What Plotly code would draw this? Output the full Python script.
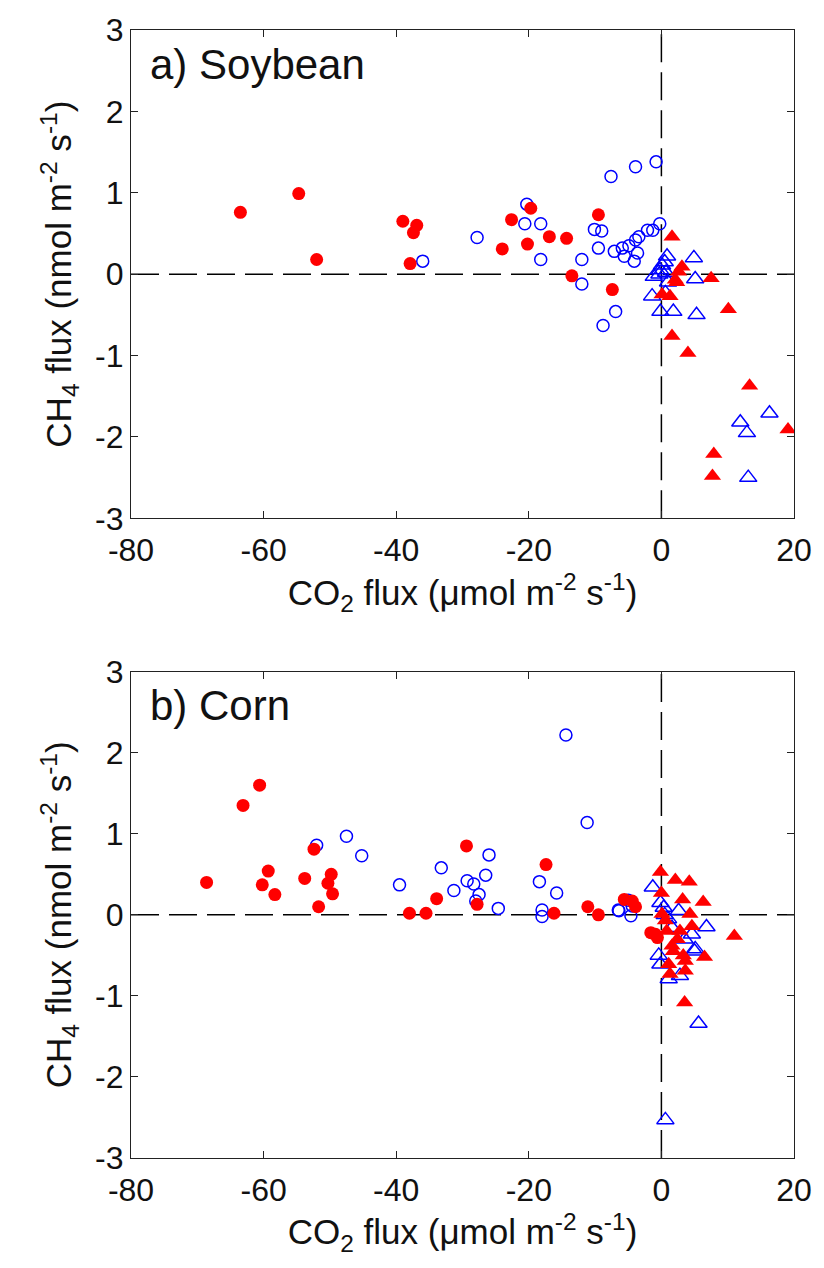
import plotly.graph_objects as go

# ---------------- Data ----------------
# Panel a) Soybean
soy_red_circ_x = [-63.5, -54.7, -52.0, -39.0, -36.9, -37.4, -37.9, -22.6, -19.7, -24.0, -20.2, -16.9, -14.3, -9.5, -13.5, -7.4]
soy_red_circ_y = [0.76, 0.99, 0.18, 0.65, 0.60, 0.51, 0.13, 0.67, 0.81, 0.31, 0.37, 0.46, 0.44, 0.73, -0.02, -0.19]

soy_blue_circ_x = [-20.3, -20.6, -18.2, -27.8, -36.0, -18.2, -12.0, -12.0, -9.5, -10.1, -9.0, -7.6, -3.9, -0.8, -6.9, -8.8,
                   -7.1, -5.9, -5.6, -4.9, -4.1, -3.6, -3.9, -3.4, -2.1, -1.3, -0.25]
soy_blue_circ_y = [0.86, 0.62, 0.62, 0.45, 0.16, 0.18, 0.18, -0.12, 0.32, 0.55, 0.53, 1.20, 1.32, 1.38, -0.46, -0.63,
                   0.28, 0.32, 0.22, 0.35, 0.16, 0.26, 0.42, 0.46, 0.54, 0.54, 0.62]

soy_blue_tri_x = [0.85, 4.9, 5.1, -1.15, 0.1, 0.5, -0.2, 0.7, -1.4, -0.15, 1.8, 5.3, 0.6, 11.9, 16.3, 12.9, 13.1, -0.3, 1.0]
soy_blue_tri_y = [0.22, 0.20, -0.06, -0.03, 0.11, 0.15, 0.05, 0.02, -0.27, -0.46, -0.46, -0.50, -0.23, -1.82, -1.71, -1.95, -2.50, 0.00, -0.10]

soy_red_tri_x = [1.6, 3.1, 2.1, 7.5, 10.1, 1.6, 4.0, 0.1, 1.3, 2.3, 2.6, 13.3, 19.1, 7.9, 7.7]
soy_red_tri_y = [0.46, 0.09, -0.07, -0.05, -0.43, -0.76, -0.97, -0.25, -0.27, -0.10, 0.03, -1.37, -1.91, -2.21, -2.48]

# Panel b) Corn
corn_red_circ_x = [-60.6, -63.1, -68.6, -59.3, -60.2, -58.3, -53.8, -52.4, -51.7, -49.8, -50.3, -49.6, -38.0, -35.5,
                   -33.9, -29.4, -27.8, -17.4, -16.2, -11.1, -9.5, -5.6, -4.4, -3.9, -1.6, -0.9, -0.6]
corn_red_circ_y = [1.60, 1.35, 0.40, 0.54, 0.37, 0.25, 0.45, 0.81, 0.10, 0.50, 0.39, 0.26, 0.02, 0.02,
                   0.20, 0.85, 0.13, 0.62, 0.02, 0.10, 0.00, 0.19, 0.17, 0.10, -0.22, -0.24, -0.28]

corn_blue_circ_x = [-52.0, -47.5, -45.2, -39.5, -14.4, -11.2, -33.2, -31.3, -29.3, -28.3, -27.5, -28.0, -26.0, -26.5,
                    -24.6, -18.4, -15.8, -18.0, -18.0, -6.5, -6.4, -4.6, -4.4, -5.0]
corn_blue_circ_y = [0.86, 0.97, 0.73, 0.37, 2.22, 1.14, 0.58, 0.30, 0.42, 0.38, 0.25, 0.17, 0.74, 0.49,
                    0.08, 0.41, 0.27, 0.06, -0.02, 0.06, 0.05, -0.01, 0.11, 0.18]

corn_blue_tri_x = [-1.3, -0.15, 0.35, 2.6, 6.8, 5.1, -0.4, 1.1, 2.8, 4.6, 1.6, -0.15, 5.6, 0.6, 0.5, 1.0, 3.5, 5.0]
corn_blue_tri_y = [0.34, 0.15, 0.09, 0.05, -0.15, -0.42, -0.50, -0.79, -0.75, -0.24, -0.16, -0.61, -1.34, -2.53, 0.00, -0.05, -0.30, -0.45]

corn_red_tri_x = [-0.15, 2.1, 4.2, 3.2, 6.3, 0.0, 4.3, 4.6, 2.8, 11.0, 1.6, 3.3, 3.6, 6.5, 1.1, 3.6, 1.3, 3.5, 0.1, 0.6, 2.4, 1.8, 0.8]
corn_red_tri_y = [0.53, 0.43, 0.41, 0.19, 0.16, 0.27, 0.01, -0.14, -0.20, -0.26, -0.38, -0.50, -0.57, -0.52, -0.61, -0.69,
                  -0.73, -1.08, 0.01, -0.07, -0.30, -0.45, -0.20]

x_tickvals = [-80, -60, -40, -20, 0, 20]
x_ticktext = ["-80", "-60", "-40", "-20", "0", "20"]
y_tickvals = [-3, -2, -1, 0, 1, 2, 3]
y_ticktext = ["-3", "-2", "-1", "0", "1", "2", "3"]
panel_labels = ["a) Soybean", "b) Corn"]

RED = "#FF0000"
BLUE = "#0000FF"
FONT = "Liberation Sans, Arial, sans-serif"

fig = go.Figure()

panels = [
    ("x", "y", soy_red_circ_x, soy_red_circ_y, soy_blue_circ_x, soy_blue_circ_y,
     soy_blue_tri_x, soy_blue_tri_y, soy_red_tri_x, soy_red_tri_y),
    ("x2", "y2", corn_red_circ_x, corn_red_circ_y, corn_blue_circ_x, corn_blue_circ_y,
     corn_blue_tri_x, corn_blue_tri_y, corn_red_tri_x, corn_red_tri_y),
]

for (xa, ya, rcx, rcy, bcx, bcy, btx, bty, rtx, rty) in panels:
    fig.add_trace(go.Scatter(x=bcx, y=bcy, mode="markers", xaxis=xa, yaxis=ya,
                             marker=dict(symbol="circle-open", size=12, color=BLUE, line=dict(width=1.5, color=BLUE))))
    fig.add_trace(go.Scatter(x=btx, y=bty, mode="markers", xaxis=xa, yaxis=ya,
                             marker=dict(symbol="triangle-up-open", size=15, color=BLUE, line=dict(width=1.5, color=BLUE))))
    fig.add_trace(go.Scatter(x=rcx, y=rcy, mode="markers", xaxis=xa, yaxis=ya,
                             marker=dict(symbol="circle", size=13, color=RED, line=dict(width=0))))
    fig.add_trace(go.Scatter(x=rtx, y=rty, mode="markers", xaxis=xa, yaxis=ya,
                             marker=dict(symbol="triangle-up", size=15, color=RED, line=dict(width=0))))
    # dashed zero lines
    fig.add_shape(type="line", xref=xa, yref=ya, x0=0, x1=0, y0=-3, y1=3,
                  line=dict(color="black", width=1.5, dash="28px,10px"), layer="below")
    fig.add_shape(type="line", xref=xa, yref=ya, x0=-80, x1=20, y0=0, y1=0,
                  line=dict(color="black", width=1.5, dash="28px,10px"), layer="below")

xtitle = "CO<sub>2</sub> flux (μmol m<sup>-2</sup> s<sup>-1</sup>)"
ytitle = "CH<sub>4</sub> flux (nmol m<sup>-2</sup> s<sup>-1</sup>)"

axis_common = dict(showgrid=False, zeroline=False, showline=True, linecolor="#222", linewidth=1.3,
                   mirror="ticks", ticks="inside", ticklen=7, tickwidth=1.2, tickcolor="#222",
                   tickfont=dict(family=FONT, size=32, color="#111"))

xaxis_cfg = dict(axis_common, range=[-80, 20], tickvals=x_tickvals, ticktext=x_ticktext, ticklabelstandoff=3,
                 title=dict(text=xtitle, font=dict(family=FONT, size=35, color="#111"), standoff=8))
yaxis_cfg = dict(axis_common, range=[-3, 3], tickvals=y_tickvals, ticktext=y_ticktext, ticklabelstandoff=0,
                 title=dict(text=ytitle, font=dict(family=FONT, size=35, color="#111"), standoff=12))

fig.update_layout(
    width=824, height=1268,
    margin=dict(l=131, r=24, t=26, b=110),
    paper_bgcolor="white", plot_bgcolor="white",
    showlegend=False,
    xaxis=dict(xaxis_cfg, domain=[0, 1], anchor="y"),
    yaxis=dict(yaxis_cfg, domain=[0.5671, 1.0], anchor="x"),
    xaxis2=dict(xaxis_cfg, domain=[0, 1], anchor="y2"),
    yaxis2=dict(yaxis_cfg, domain=[0.0, 0.4311], anchor="x2"),
)

for i, (lbl, yr) in enumerate(zip(panel_labels, ["y domain", "y2 domain"])):
    xr = "x domain" if i == 0 else "x2 domain"
    fig.add_annotation(text=lbl, xref=xr, yref=yr, x=0.026, y=0.982, xanchor="left", yanchor="top",
                       showarrow=False, font=dict(family=FONT, size=42, color="#111"))

fig.write_html("out.html")
